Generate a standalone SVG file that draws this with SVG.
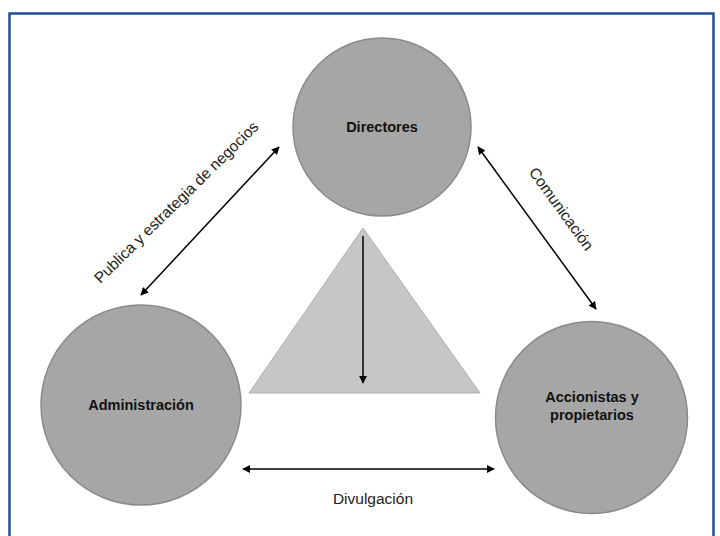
<svg xmlns="http://www.w3.org/2000/svg" width="720" height="536" viewBox="0 0 720 536">
<defs>
<marker id="ah" viewBox="0 0 10 10" refX="9" refY="5" markerWidth="8" markerHeight="8" markerUnits="userSpaceOnUse" orient="auto-start-reverse">
<path d="M0,0 L10,5 L0,10 z" fill="#000"/>
</marker>
<style>
.node{fill:#a6a6a6;stroke:#8a8a8a;stroke-width:1.5}
.nl{font-family:"Liberation Sans",Arial,sans-serif;font-weight:bold;font-size:14.5px;fill:#111;text-anchor:middle}
.el{font-family:"Liberation Sans",Arial,sans-serif;font-size:15.5px;fill:#222;text-anchor:middle}
.cn{stroke:#000;stroke-width:1.5;fill:none;marker-start:url(#ah);marker-end:url(#ah)}
</style>
</defs>
<rect x="0" y="0" width="720" height="536" fill="#fff"/>
<rect x="9.5" y="13.5" width="704" height="540" fill="none" stroke="#1f4e96" stroke-width="2.5"/>
<polygon points="363,228 249,393 480,393" fill="#c6c6c6" stroke="#b0b0b0" stroke-width="1"/>
<g id="directores">
<circle class="node" cx="382" cy="127" r="89"/>
<text class="nl" x="382" y="132">Directores</text>
</g>
<g id="administracion">
<circle class="node" cx="141" cy="405" r="100"/>
<text class="nl" x="141" y="410">Administración</text>
</g>
<g id="accionistas">
<circle class="node" cx="591.5" cy="417.5" r="96"/>
<text class="nl" x="592" y="402">Accionistas y</text>
<text class="nl" x="592" y="420">propietarios</text>
</g>
<g id="connectors">
<line class="cn" x1="279" y1="147" x2="141" y2="295"/>
<line class="cn" x1="478" y1="147" x2="596" y2="309"/>
<line class="cn" x1="243" y1="469" x2="494" y2="469"/>
<line x1="363" y1="236" x2="363" y2="383" stroke="#000" stroke-width="1.5" marker-end="url(#ah)"/>
<text class="el" transform="translate(180,206) rotate(-44.5)">Publica  y estrategia de negocios</text>
<text class="el" transform="translate(557,212) rotate(54)">Comunicación</text>
<text class="el" x="373" y="504">Divulgación</text>
</g>
</svg>
